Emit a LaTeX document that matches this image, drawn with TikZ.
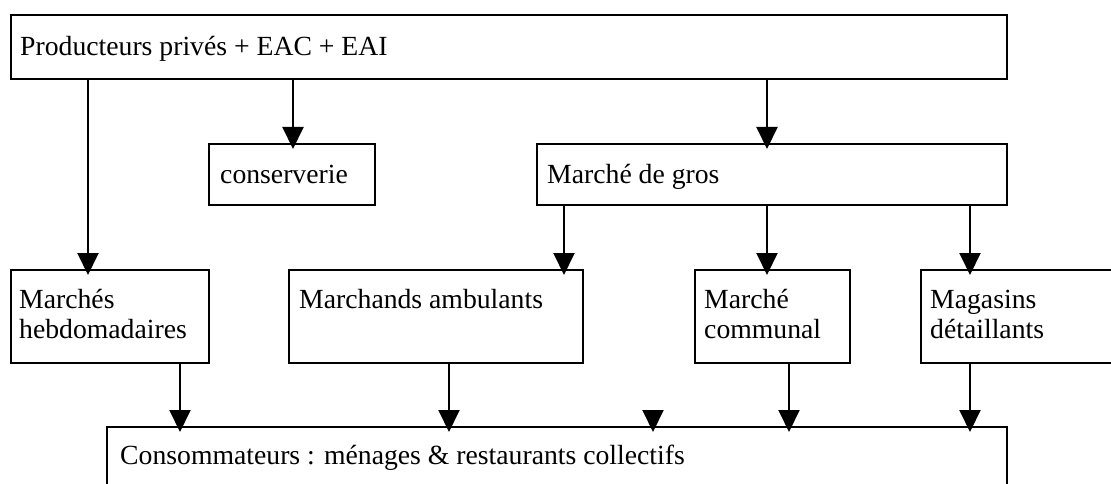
\documentclass[tikz,border=0pt]{standalone}
\usepackage{fontspec}
\setmainfont{Liberation Serif}
\usetikzlibrary{arrows.meta}
\begin{document}
\begin{tikzpicture}[x=1pt,y=-1pt,
    box/.style={draw,line width=2.4pt,anchor=north west,inner sep=0pt,outer sep=0pt},
    txt/.style={anchor=base west,inner sep=0pt,align=left,font=\fontsize{27.7}{30}\selectfont},
    arr/.style={line width=2pt,-{Triangle[width=21pt,length=22pt]},shorten >=-5pt}]
        \clip(0,0)rectangle(1111,484);
        \node[box,minimum width=996pt,minimum height=64pt](1)at(11,15){};
        \node[box,minimum width=166pt,minimum height=61pt](2)at(209,144){};
        \node[box,minimum width=470pt,minimum height=61pt](3)at(537,144){};
        \node[box,minimum width=198pt,minimum height=93pt](4)at(11,270){};
        \node[box,minimum width=294pt,minimum height=93pt](5)at(289,270){};
        \node[box,minimum width=155pt,minimum height=93pt](6)at(695,270){};
        \node[box,minimum width=220pt,minimum height=93pt](7)at(921,270){};
        \node[box,minimum width=900pt,minimum height=93pt](8)at(107,427){};
        \node[txt](1t)at([shift={(9,41)}]1.north west){Producteurs privés + EAC + EAI};
        \node[txt](2t)at([shift={(11,39)}]2.north west){conserverie};
        \node[txt](3t)at([shift={(10,39)}]3.north west){Marché de gros};
        \node[txt](4t)at([shift={(8,68)}]4.north west){Marchés\\hebdomadaires};
        \node[txt](5t)at([shift={(10,38)}]5.north west){Marchands ambulants};
        \node[txt](6t)at([shift={(9,68)}]6.north west){Marché\\communal};
        \node[txt](7t)at([shift={(9,68)}]7.north west){Magasins\\détaillants};
        \node[txt](8t)at([shift={(13,37)}]8.north west){Consommateurs : ménages \& restaurants collectifs};
        \coordinate(9)at(653,410);
        \draw[arr](1.south -| 88,0)--(4.north -| 88,0);
        \draw[arr](1.south -| 293,0)--(2.north -| 293,0);
        \draw[arr](1.south -| 767,0)--(3.north -| 767,0);
        \draw[arr](3.south -| 564,0)--(5.north -| 564,0);
        \draw[arr](3.south -| 767,0)--(6.north -| 767,0);
        \draw[arr](3.south -| 970,0)--(7.north -| 970,0);
        \draw[arr](4.south -| 180,0)--(8.north -| 180,0);
        \draw[arr](5.south -| 449,0)--(8.north -| 449,0);
        \draw[arr](6.south -| 789,0)--(8.north -| 789,0);
        \draw[arr](7.south -| 970,0)--(8.north -| 970,0);
        \draw[arr](9)--(8.north -| 9);
    \end{tikzpicture}
\end{document}
